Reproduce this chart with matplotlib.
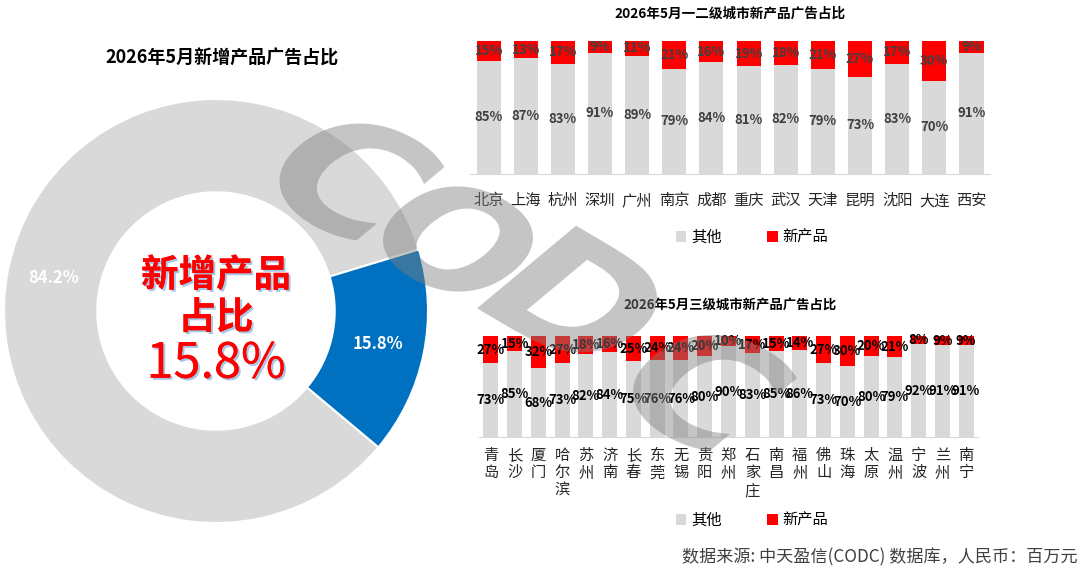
import numpy as np
import matplotlib
matplotlib.use("Agg")
import matplotlib.pyplot as plt
import matplotlib.patheffects as pe
from matplotlib.textpath import TextPath
from matplotlib.patches import PathPatch
from matplotlib.transforms import Affine2D
from matplotlib.font_manager import FontProperties

plt.rcParams['font.family'] = ['Noto Sans CJK SC', 'DejaVu Sans']

# 数据
pie_labels = ['其他', '新产品']
pie_values = [84.2, 15.8]

tier12_cities = ['北京', '上海', '杭州', '深圳', '广州', '南京', '成都', '重庆',
                 '武汉', '天津', '昆明', '沈阳', '大连', '西安']
tier12_other = [85, 87, 83, 91, 89, 79, 84, 81, 82, 79, 73, 83, 70, 91]
tier12_new = [15, 13, 17, 9, 11, 21, 16, 19, 18, 21, 27, 17, 30, 9]

tier3_cities = ['青岛', '长沙', '厦门', '哈尔滨', '苏州', '济南', '长春', '东莞',
                '无锡', '贵阳', '郑州', '石家庄', '南昌', '福州', '佛山', '珠海',
                '太原', '温州', '宁波', '兰州', '南宁']
tier3_other = [73, 85, 68, 73, 82, 84, 75, 76, 76, 80, 90, 83, 85, 86, 73, 70,
               80, 79, 92, 91, 91]
tier3_new = [27, 15, 32, 27, 18, 16, 25, 24, 24, 20, 10, 17, 15, 14, 27, 30,
             20, 21, 8, 9, 9]

GRAY = '#D9D9D9'
RED = '#FF0000'
BLUE = '#0070C0'

W, H = 1080, 570
fig = plt.figure(figsize=(W / 100, H / 100), dpi=100)


def box(left, top, width, height):
    # 像素坐标 -> figure 坐标
    return [left / W, 1 - (top + height) / H, width / W, height / H]


# 左侧环形图
ax0 = fig.add_axes(box(4, 99, 424, 424))
wedges, texts, autotexts = ax0.pie(
    pie_values, colors=[GRAY, BLUE], startangle=320, counterclock=False,
    radius=1, wedgeprops=dict(width=0.44, edgecolor='white', linewidth=1.5),
    autopct=lambda p: f'{p:.1f}%', pctdistance=0.78,
    textprops=dict(color='white', fontsize=12, fontweight='bold'))
ax0.set_xlim(-1, 1)
ax0.set_ylim(-1, 1)
ax0.set_aspect('equal')

shadow = [pe.withSimplePatchShadow(offset=(1.5, -1.5), shadow_rgbFace='#9DC3E6', alpha=0.9),
          pe.Normal()]
ax0.text(0, 0.17, '新增产品', ha='center', va='center', color=RED,
         fontsize=27, fontweight='bold', path_effects=shadow)
ax0.text(0, -0.03, '占比', ha='center', va='center', color=RED,
         fontsize=27, fontweight='bold', path_effects=shadow)
ax0.text(0, -0.25, f'{pie_values[1]}%', ha='center', va='center', color=RED,
         fontsize=35, path_effects=shadow)

fig.text(222 / W, 1 - 58 / H, '2026年5月新增产品广告占比', ha='center', va='center',
         fontsize=13, fontweight='bold', color='black')


def stacked(ax, cities, other, new, width, lab_size, lab_color, tick_pad, ticklabels):
    x = np.arange(len(cities))
    b1 = ax.bar(x, other, width, color=GRAY, label='其他')
    b2 = ax.bar(x, new, width, bottom=other, color=RED, label='新产品')
    ax.bar_label(b1, labels=[f'{v}%' for v in other], label_type='center',
                 fontsize=lab_size, fontweight='bold', color=lab_color)
    ax.bar_label(b2, labels=[f'{v}%' for v in new], label_type='center',
                 fontsize=lab_size, fontweight='bold', color=lab_color)
    ax.set_xlim(-0.5, len(cities) - 0.5)
    ax.set_ylim(0, 100)
    ax.set_yticks([])
    ax.set_xticks(x)
    ax.set_xticklabels(ticklabels, fontsize=11, color='#262626', linespacing=1.05)
    ax.tick_params(axis='x', length=0, pad=tick_pad)
    for s in ['top', 'left', 'right']:
        ax.spines[s].set_visible(False)
    ax.spines['bottom'].set_color('#D9D9D9')
    return b1, b2


# 右上：一二级城市
ax1 = fig.add_axes(box(470, 41, 520, 133))
h1 = stacked(ax1, tier12_cities, tier12_other, tier12_new, 0.65, 9.5, '#404040', 13,
             tier12_cities)
fig.text(730 / W, 1 - 14 / H, '2026年5月一二级城市新产品广告占比', ha='center', va='center',
         fontsize=9.8, fontweight='bold', color='black')
fig.legend(h1, ['其他', '新产品'], loc='center', bbox_to_anchor=(752 / W, 1 - 237 / H),
           ncol=2, frameon=False, fontsize=11, handlelength=0.7, handleheight=0.7,
           handletextpad=0.3, columnspacing=3.0)

# 右下：三级城市
ax2 = fig.add_axes(box(479, 336, 499, 101))
h2 = stacked(ax2, tier3_cities, tier3_other, tier3_new, 0.63, 9.5, 'black', 7,
             ['\n'.join(c) for c in tier3_cities])
fig.text(730 / W, 1 - 305 / H, '2026年5月三级城市新产品广告占比', ha='center', va='center',
         fontsize=9.6, fontweight='bold', color='black')
fig.legend(h2, ['其他', '新产品'], loc='center', bbox_to_anchor=(752 / W, 1 - 520 / H),
           ncol=2, frameon=False, fontsize=11, handlelength=0.7, handleheight=0.7,
           handletextpad=0.3, columnspacing=3.0)

fig.text(1078 / W, 1 - 557 / H, '数据来源: 中天盈信(CODC) 数据库，人民币：百万元',
         ha='right', va='center', fontsize=12.3, color='#404040')

# 水印 CODC：字母顺时针旋转后整体纵向压扁，再缩放到目标宽度
wm = fig.add_axes([0, 0, 1, 1], zorder=20)
wm.set_xlim(0, W)
wm.set_ylim(H, 0)
wm.axis('off')
wm.patch.set_alpha(0)
fp = FontProperties(family='DejaVu Sans', weight='bold')
wm_x = [362, 458, 567, 715]
wm_y = [182, 239, 289, 393]
wm_w = [165, 150, 180, 164]
for ch, cx, cy, tw in zip('CODC', wm_x, wm_y, wm_w):
    tp = TextPath((0, 0), ch, size=100, prop=fp)
    ext = tp.get_extents()
    base = (Affine2D().translate(-(ext.x0 + ext.x1) / 2, -(ext.y0 + ext.y1) / 2)
            .scale(1.0, -1.0).rotate_deg(40).scale(1.0, 0.7))
    p = base.transform_path(tp)
    e = p.get_extents()
    k = tw / e.width
    p = Affine2D().translate(-(e.x0 + e.x1) / 2, -(e.y0 + e.y1) / 2).scale(k).translate(cx, cy).transform_path(p)
    wm.add_patch(PathPatch(p, fc='#808080', ec='none', alpha=0.45))

fig.savefig('out.png', dpi=100)
